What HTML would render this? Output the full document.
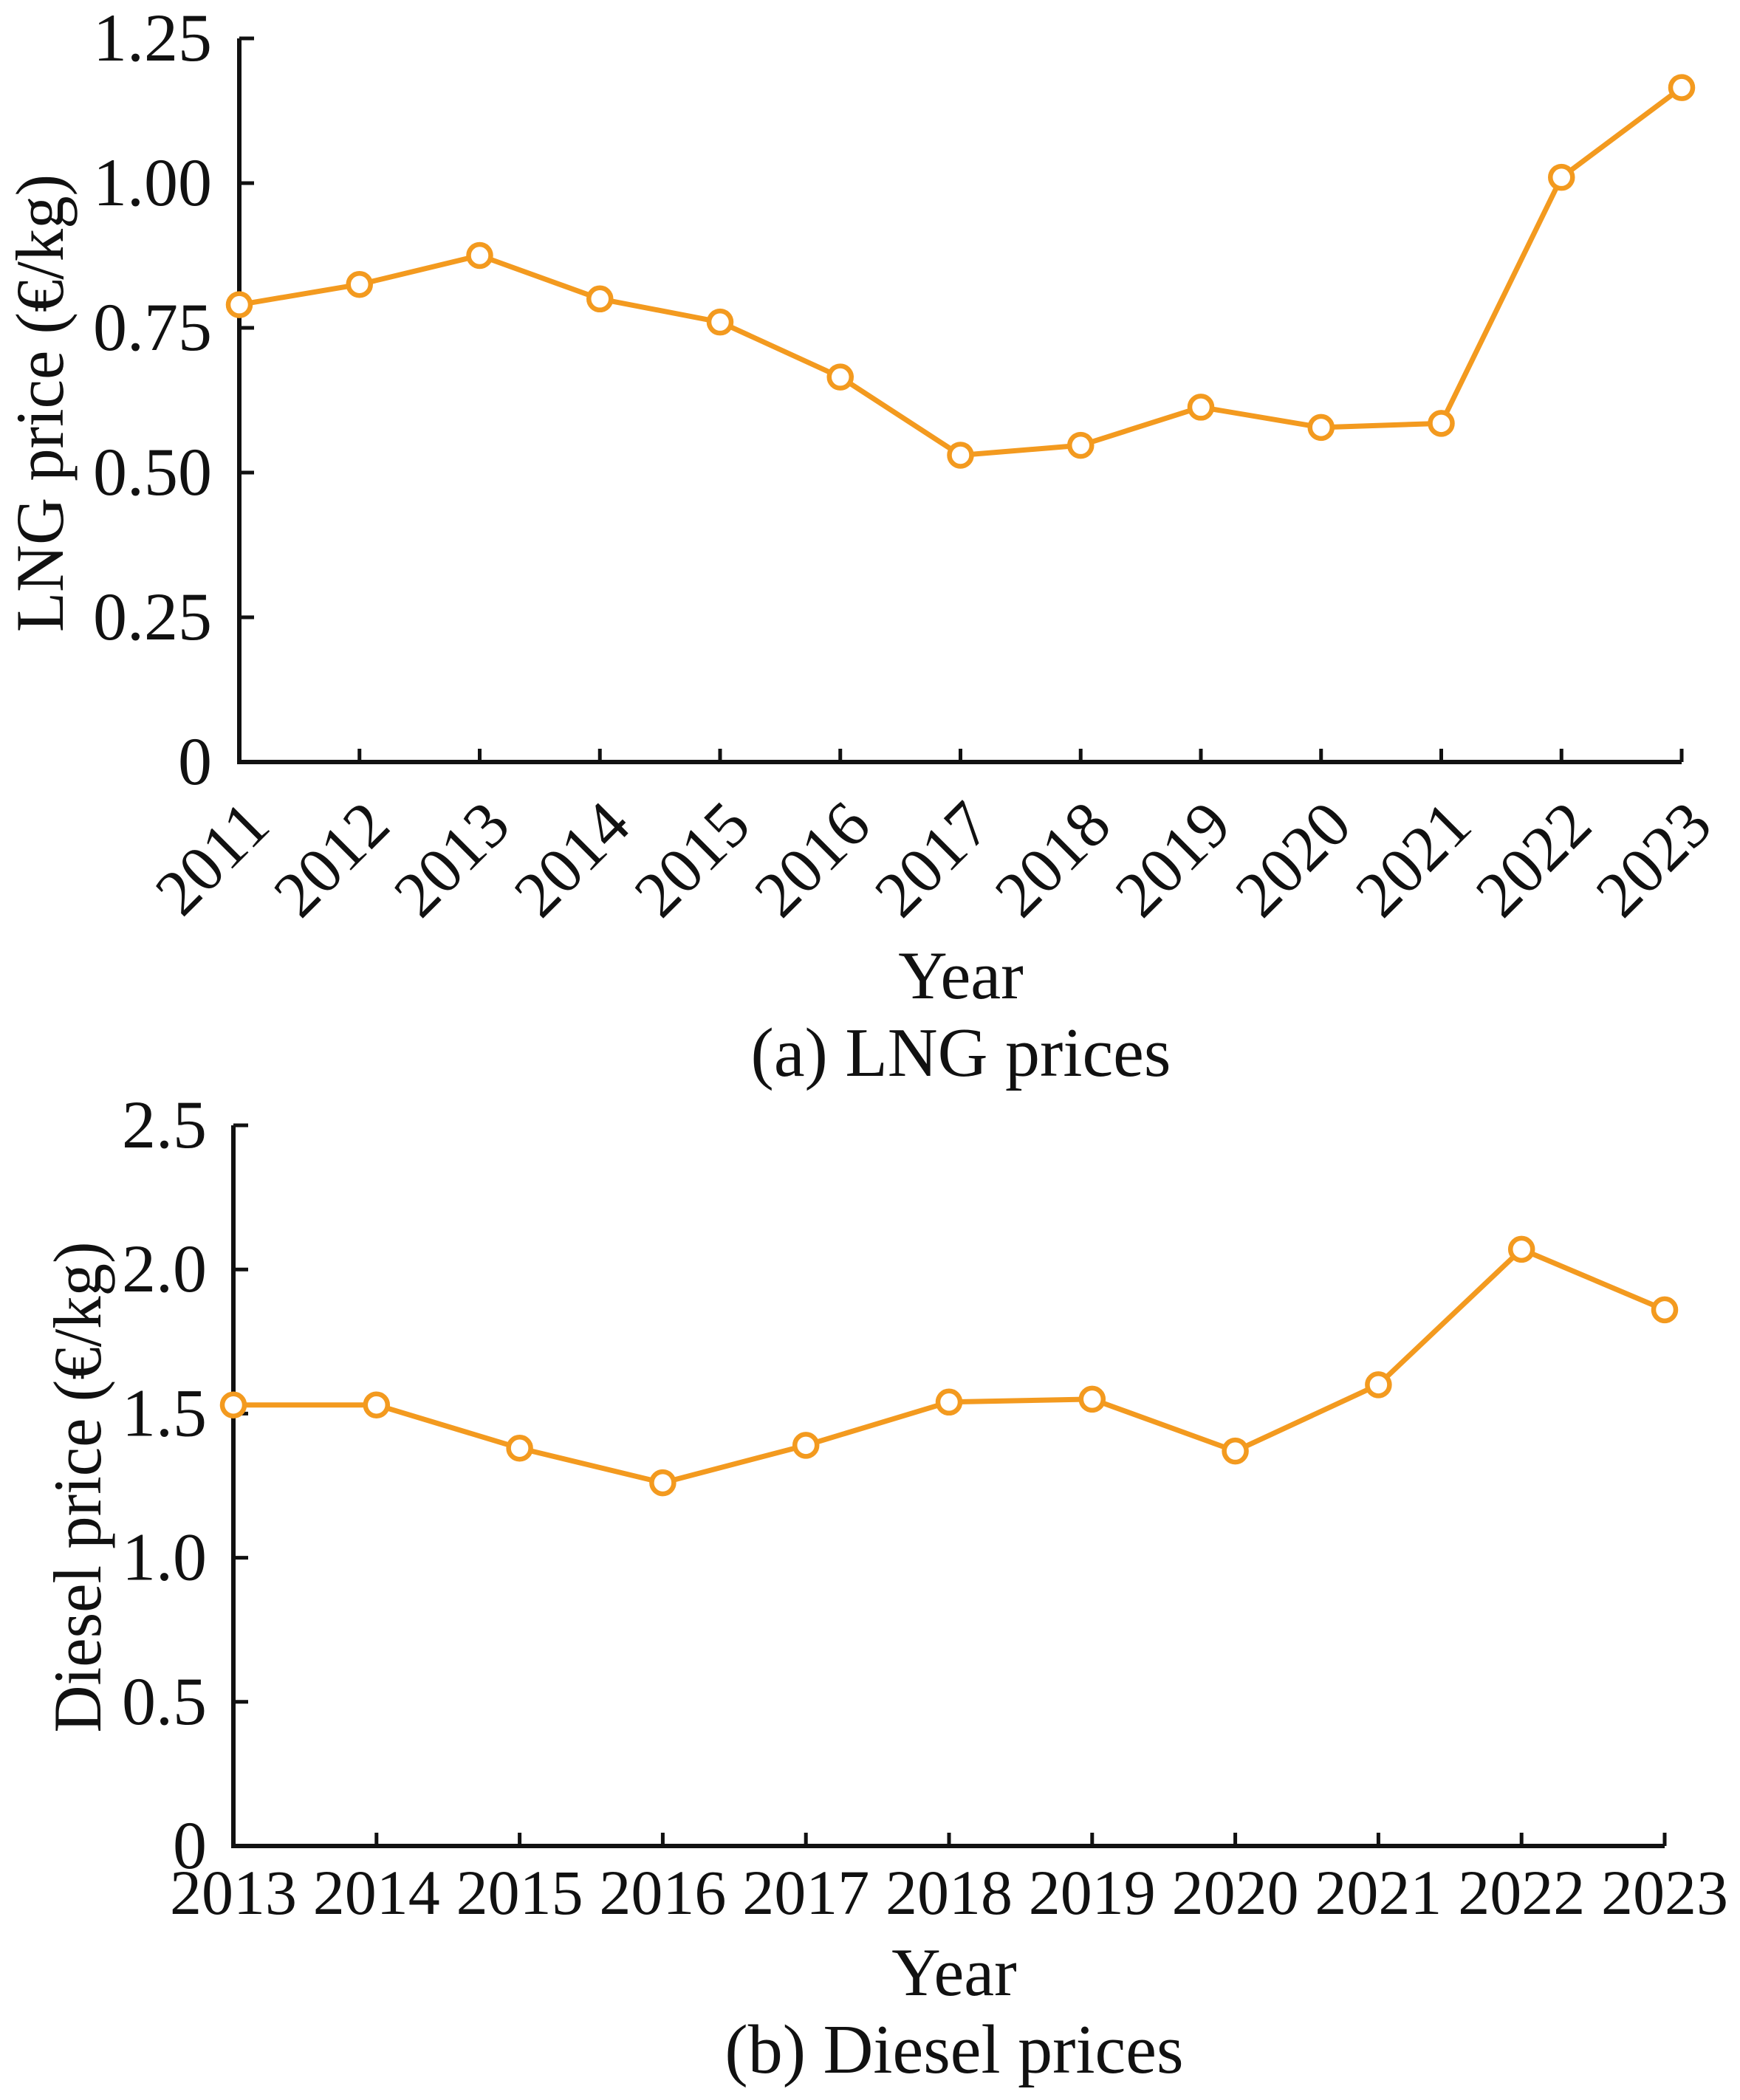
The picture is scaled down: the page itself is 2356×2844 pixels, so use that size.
<!DOCTYPE html>
<html><head><meta charset="utf-8"><style>
html,body{margin:0;padding:0;background:#fff}
svg{display:block;font-family:"Liberation Serif",serif}
</style></head><body>
<svg id="c" width="2356" height="2844" viewBox="0 0 2356 2844"></svg>
<script>
const lngYears=[2011,2012,2013,2014,2015,2016,2017,2018,2019,2020,2021,2022,2023];
const lngPrices=[0.79,0.825,0.875,0.80,0.76,0.665,0.53,0.547,0.613,0.578,0.585,1.01,1.165];
const lngTicks=[0,0.25,0.5,0.75,1.0,1.25];
const lngTickLabels=["0","0.25","0.50","0.75","1.00","1.25"];
const dieselYears=[2013,2014,2015,2016,2017,2018,2019,2020,2021,2022,2023];
const dieselPrices=[1.53,1.53,1.38,1.26,1.39,1.54,1.55,1.37,1.60,2.07,1.86];
const dieselTicks=[0,0.5,1.0,1.5,2.0,2.5];
const dieselTickLabels=["0","0.5","1.0","1.5","2.0","2.5"];

const svg=document.getElementById('c');
const NS='http://www.w3.org/2000/svg';
function mk(tag,attrs,parent){const e=document.createElementNS(NS,tag);for(const k in attrs)e.setAttribute(k,attrs[k]);(parent||svg).appendChild(e);return e;}
const ORANGE='#f39a1f';

function panel(cfg){
  const g=mk('g',{});
  
  
  const xs=v=>cfg.x0+(v-cfg.cats[0])/(cfg.cats[cfg.cats.length-1]-cfg.cats[0])*(cfg.x1-cfg.x0);
  const ys=v=>cfg.y0-(v-cfg.ymin)/(cfg.ymax-cfg.ymin)*(cfg.y0-cfg.y1);
  const ax=mk('path',{d:`M${cfg.x0},${cfg.y1} V${cfg.y0} H${cfg.x1}`,fill:'none',stroke:'#111','stroke-width':6},g);
  
  
  cfg.ticks.forEach((t,i)=>{
    const y=ys(t);
    if(i>0){const tk=mk('line',{x1:cfg.x0,x2:cfg.x0+20,y1:y,y2:y,stroke:'#111','stroke-width':5},g);
      
      }
    const tx=mk('text',{x:cfg.ylabX,y:y+30,'text-anchor':'end','font-size':92,fill:'#111'},g);
    tx.textContent=cfg.tickLabels[i];
    
    
  });
  cfg.cats.forEach((c,i)=>{
    const x=xs(c);
    if(i>0){const tk=mk('line',{x1:x,x2:x,y1:cfg.y0,y2:cfg.y0-18,stroke:'#111','stroke-width':5},g);
      
      }
    let tx;
    if(cfg.rot){tx=mk('text',{x:x+45,y:cfg.y0+90,'text-anchor':'end','font-size':88,fill:'#111',transform:`rotate(-45 ${x+45} ${cfg.y0+90})`},g);}
    else{tx=mk('text',{x:x,y:cfg.xlabY,'text-anchor':'middle','font-size':86,fill:'#111'},g);}
    tx.textContent=String(c);
    
    
  });
  const pts=cfg.cats.map((c,i)=>[xs(c),ys(cfg.vals[i])]);
  const ln=mk('polyline',{points:pts.map(p=>p.join(',')).join(' '),fill:'none',stroke:ORANGE,'stroke-width':7,'stroke-linejoin':'round'},g);
  
  
  pts.forEach(p=>{const m=mk('circle',{cx:p[0],cy:p[1],r:15,fill:'#fff',stroke:ORANGE,'stroke-width':6.5},g);
    
    });
  const yt=mk('text',{x:cfg.ytX,y:cfg.ytY,'text-anchor':'middle','font-size':92,fill:'#111',textLength:cfg.ytLen,lengthAdjust:'spacingAndGlyphs',transform:`rotate(-90 ${cfg.ytX} ${cfg.ytY})`,'dominant-baseline':'central'},g);
  yt.textContent=cfg.ytitle;
  
  
  const xt=mk('text',{x:cfg.xtX,y:cfg.xtY,'text-anchor':'middle','font-size':92,fill:'#111'},g);
  xt.textContent='Year';
  
  
  const cp=mk('text',{x:cfg.xtX,y:cfg.capY,'text-anchor':'middle','font-size':94,fill:'#111'},g);
  cp.textContent=cfg.caption;
  
  
}

panel({name:'lng-chart',cats:lngYears,vals:lngPrices,ticks:lngTicks,tickLabels:lngTickLabels,
  x0:324,x1:2277,y0:1032,y1:52,ymin:0,ymax:1.25,ylabX:287,rot:true,
  ytitle:'LNG price (€/kg)',ytX:54,ytY:546,ytLen:620,xtX:1301,xtY:1352,caption:'(a) LNG prices',capY:1457});
panel({name:'diesel-chart',cats:dieselYears,vals:dieselPrices,ticks:dieselTicks,tickLabels:dieselTickLabels,
  x0:316,x1:2254,y0:2500,y1:1524,ymin:0,ymax:2.5,ylabX:280,rot:false,xlabY:2592,
  ytitle:'Diesel price (€/kg)',ytX:105,ytY:2014,ytLen:665,xtX:1292,xtY:2702,caption:'(b) Diesel prices',capY:2807});
</script>
</body></html>
